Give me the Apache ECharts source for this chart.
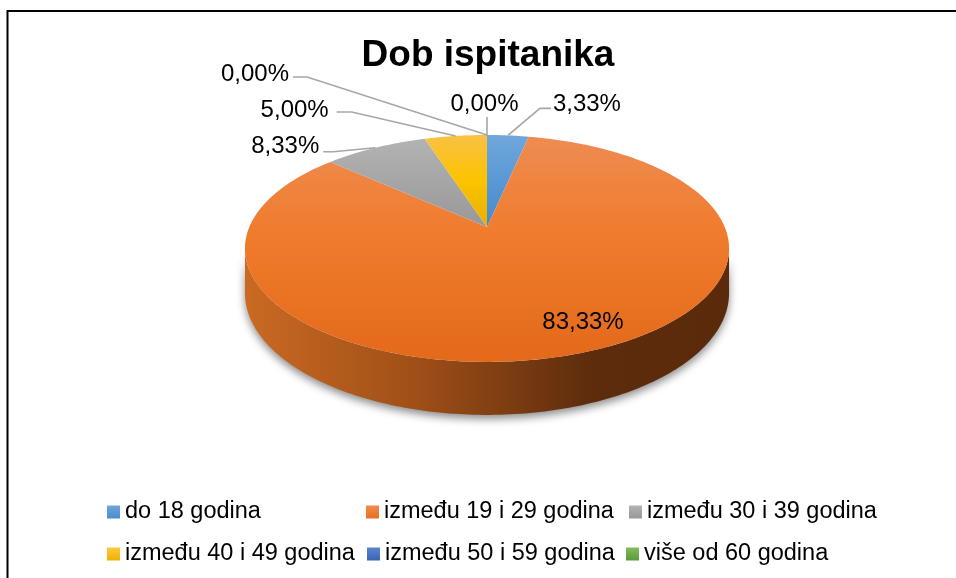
<!DOCTYPE html>
<html><head><meta charset="utf-8">
<script src="https://cdn.jsdelivr.net/npm/echarts@6/dist/echarts.min.js"></script>
<style>html,body{margin:0;padding:0;background:#fff}#c{width:956px;height:578px}</style>
</head><body><div id="c"></div>
<script>
// ---------- data ----------
const titleText = 'Dob ispitanika';
const categories = ['do 18 godina', 'između 19 i 29 godina', 'između 30 i 39 godina',
                    'između 40 i 49 godina', 'između 50 i 59 godina', 'više od 60 godina'];
const percentValues = [3.33, 83.33, 8.33, 5.00, 0, 0];

// ---------- styles / layout ----------
const FONT = '"Liberation Sans", Arial, Helvetica, sans-serif';
const baseColors = ['#5B9BD5', '#ED7D31', '#A5A5A5', '#FFC000', '#4472C4', '#70AD47'];
// top-face gradient stops (global vertical gradient over the pie top)
const faceStops = [
  [[0, '#70A7DC'], [0.42, '#4388CE'], [1, '#3A78BB']],
  [[0, '#EE8C52'], [0.45, '#F07B2C'], [1, '#E3691B']],
  [[0, '#B4B4B4'], [0.42, '#979797'], [1, '#8A8A8A']],
  [[0, '#F9C144'], [0.2, '#FCC300'], [0.42, '#E6AE00'], [1, '#DDA600']],
  [[0, '#5A85CF'], [1, '#3A64B0']],
  [[0, '#82BC5A'], [1, '#5E9A38']]
];
const markerStops = [
  ['#6EA6DC', '#4A8ACE'], ['#F08A4C', '#E8701F'], ['#B3B3B3', '#989898'],
  ['#FFCA3A', '#EDB200'], ['#5A85CF', '#3A64B0'], ['#82BC5A', '#5E9A38']
];
// perspective pie geometry: apex(center) cx,cy ; radii a,b ; perspective p ; depth h
const G = { cx: 487, cy: 227, a: 237.7, b: 109.4, p: 0.189, h: 43 };
// label layout: leader offsets relative to rim anchor, text offset relative to leader end
const labelLayout = [
  { leader: [[32, -27], [43, -27]], text: [2, -4], align: 'left' },
  { inside: [96, 95] },
  { leader: [[-42, 4], [-52, 4]], text: [-4, -5], align: 'right' },
  { leader: [[-104, -24], [-119, -24]], text: [-8, -2], align: 'right' },
  { leader: [[0, -18], [0, -18]], text: [-2.5, -13], align: 'center' },
  { leader: [[-180, -58], [-194, -58]], text: [-4, -3], align: 'right' }
];
const legendLeft = [107, 366, 629, 107, 367, 626];
const legendRowCenter = [512, 512, 512, 554, 554, 554];

// ---------- geometry helpers ----------
const total = percentValues.reduce((s, v) => s + v, 0);
function startDeg(i) { let s = 0; for (let k = 0; k < i; k++) s += percentValues[k]; return s / total * 360; }
function proj(deg, drop) {
  const t = deg * Math.PI / 180, u = Math.sin(t), v = Math.cos(t), d = 1 + G.p * v;
  return [G.cx + G.a * u / d, G.cy + (-G.b * v + (drop || 0)) / d];
}
const sideR = Math.atan2(Math.sqrt(1 - G.p * G.p), -G.p) * 180 / Math.PI;
const sideL = 360 - sideR;
const halfW = G.a / Math.sqrt(1 - G.p * G.p);
function arc(d0, d1, drop) {
  const pts = [], n = Math.max(2, Math.ceil((d1 - d0) / 1));
  for (let k = 0; k <= n; k++) pts.push(proj(d0 + (d1 - d0) * k / n, drop));
  return pts;
}
function fmt(v) { return v.toFixed(2).replace('.', ',') + '%'; }

function makeRender(i) {
  return function (params, api) {
    const val = api.value(0);
    const t0 = startDeg(i), t1 = t0 + val / total * 360;
    const children = [];
    const topY = G.cy - G.b / (1 + G.p), botY = G.cy + G.b / (1 - G.p);
    // side wall
    const s0 = Math.max(t0, sideR), s1 = Math.min(t1, sideL);
    if (s1 > s0) {
      const pts = arc(s0, s1, 0).concat(arc(s0, s1, G.h).reverse());
      children.push({
        type: 'polygon', z2: 1, shape: { points: pts },
        style: {
          fill: new echarts.graphic.LinearGradient(G.cx - halfW, 0, G.cx + halfW, 0,
            [{ offset: 0, color: '#CA6A22' }, { offset: 0.35, color: '#A04F18' },
             { offset: 0.72, color: '#5C2C0C' }, { offset: 1, color: '#5A2A0B' }], true),
          shadowBlur: 9, shadowColor: 'rgba(0,0,0,0.45)', shadowOffsetY: 4
        }
      });
    }
    // top face
    if (t1 > t0) {
      const pts = [[G.cx, G.cy]].concat(arc(t0, t1, 0));
      children.push({
        type: 'polygon', z2: 2, shape: { points: pts },
        style: {
          fill: new echarts.graphic.LinearGradient(0, topY, 0, botY,
            faceStops[i].map(s => ({ offset: s[0], color: s[1] })), true)
        }
      });
    }
    // label
    const L = labelLayout[i];
    const txt = fmt(val);
    if (L.inside) {
      children.push({ type: 'text', z2: 10, x: G.cx + L.inside[0], y: G.cy + L.inside[1],
        style: { text: txt, align: 'center', verticalAlign: 'middle', fill: '#000', font: '24px ' + FONT } });
    } else {
      const anchor = proj((t0 + t1) / 2, 0);
      const p1 = [anchor[0] + L.leader[0][0], anchor[1] + L.leader[0][1]];
      const p2 = [anchor[0] + L.leader[1][0], anchor[1] + L.leader[1][1]];
      children.push({ type: 'polyline', z2: 9, shape: { points: [anchor, p1, p2] },
        style: { stroke: '#A6A6A6', lineWidth: 1.6, fill: null } });
      children.push({ type: 'text', z2: 10, x: p2[0] + L.text[0], y: p2[1] + L.text[1],
        style: { text: txt, align: L.align, verticalAlign: 'middle', fill: '#000', font: '24px ' + FONT } });
    }
    return { type: 'group', children: children };
  };
}

const chart = echarts.init(document.getElementById('c'), null, { renderer: 'canvas' });
chart.setOption({
  backgroundColor: '#fff',
  animation: false,
  graphic: [
    { type: 'rect', shape: { x: 7.5, y: 11, width: 970, height: 600 },
      style: { fill: null, stroke: '#000', lineWidth: 2 }, z: -1 },
    { type: 'text', x: 488, y: 56,
      style: { text: titleText, align: 'center', verticalAlign: 'middle', fill: '#000', font: 'bold 37px ' + FONT } }
  ],
  legend: categories.map((c, i) => ({
    data: [{ name: c, itemStyle: { color: new echarts.graphic.LinearGradient(0, 0, 0, 1,
      [{ offset: 0, color: markerStops[i][0] }, { offset: 1, color: markerStops[i][1] }]) } }],
    left: legendLeft[i], top: legendRowCenter[i] - 12, padding: 0,
    icon: 'rect', itemWidth: 13, itemHeight: 13, selectedMode: false,
    textStyle: { fontSize: 23.5, lineHeight: 24, color: '#000', fontFamily: FONT }
  })),
  series: categories.map((c, i) => ({
    type: 'custom', name: c, coordinateSystem: 'none',
    itemStyle: { color: baseColors[i] },
    data: [percentValues[i]],
    renderItem: makeRender(i)
  }))
});
</script></body></html>
